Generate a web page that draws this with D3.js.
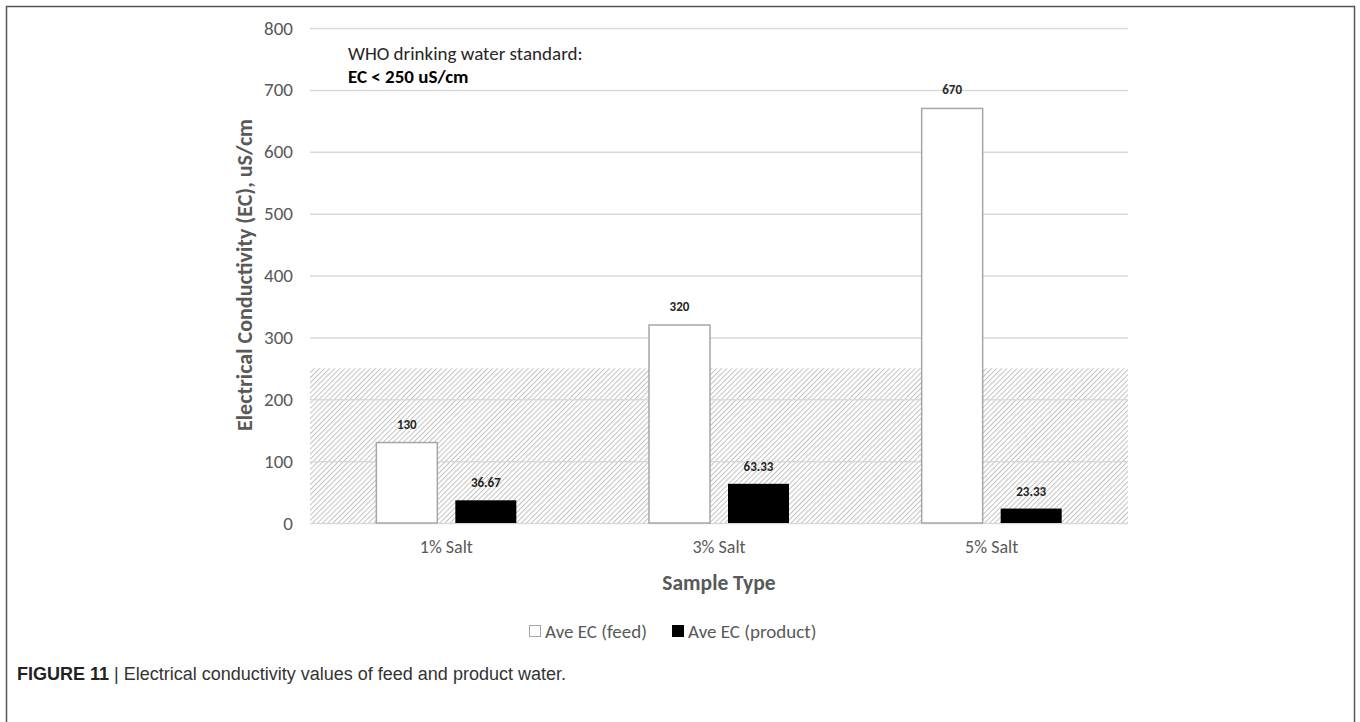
<!DOCTYPE html>
<html>
<head>
<meta charset="utf-8">
<script src="https://cdn.jsdelivr.net/npm/d3@7"></script>
<style>
  html, body { margin: 0; padding: 0; background: #fff; }
  svg { display: block; }
</style>
</head>
<body>
<svg id="chart" width="1360" height="722"></svg>
<script>
// Sample categories and measured conductivity (uS/cm)
const categories = ["1% Salt", "3% Salt", "5% Salt"];
const feedValues = [130, 320, 670];
const productValues = [36.67, 63.33, 23.33];
const feedLabels = ["130", "320", "670"];
const productLabels = ["36.67", "63.33", "23.33"];
const yTicks = [0, 100, 200, 300, 400, 500, 600, 700, 800];
const standardLimit = 250;
const seriesNames = ["Ave EC (feed)", "Ave EC (product)"];

const svg = d3.select("#chart");
const font = "Carlito, Lato, 'Open Sans', sans-serif";
const axisGrey = "#595959";

// Figure frame
svg.append("rect")
  .attr("x", 6.5).attr("y", 6.5)
  .attr("width", 1348).attr("height", 760)
  .attr("fill", "none").attr("stroke", "#555").attr("stroke-width", 1.5);

const plot = { left: 310, right: 1128, top: 28, bottom: 523 };

const x = d3.scaleBand().domain(categories).range([plot.left, plot.right]);
const y = d3.scaleLinear().domain([0, 800]).range([plot.bottom, plot.top]);

// Hatch pattern for the drinking-water band
const defs = svg.append("defs");
const pat = defs.append("pattern")
  .attr("id", "hatch").attr("patternUnits", "userSpaceOnUse")
  .attr("width", 3.6).attr("height", 3.6)
  .attr("patternTransform", "rotate(45)");
pat.append("rect").attr("width", 3.6).attr("height", 3.6).attr("fill", "#fff");
pat.append("line").attr("x1", 0).attr("y1", 0).attr("x2", 0).attr("y2", 3.6)
  .attr("stroke", "#ababab").attr("stroke-width", 1.4);

svg.append("rect")
  .attr("x", plot.left).attr("y", y(standardLimit))
  .attr("width", plot.right - plot.left)
  .attr("height", y(0) - y(standardLimit))
  .attr("fill", "url(#hatch)");

// Gridlines
svg.append("g").selectAll("line").data(yTicks).join("line")
  .attr("x1", plot.left).attr("x2", plot.right)
  .attr("y1", d => y(d) + 0.5).attr("y2", d => y(d) + 0.5)
  .attr("stroke", "#d9d9d9").attr("stroke-width", 1.5);

// Y axis tick labels
const yAxis = svg.append("g")
  .attr("transform", `translate(${plot.left},0)`)
  .call(d3.axisLeft(y).tickValues(yTicks).tickSize(0).tickPadding(17));
yAxis.select(".domain").remove();
yAxis.selectAll("text")
  .attr("font-family", font).attr("font-size", 19).attr("fill", axisGrey);

// X axis category labels
const xAxis = svg.append("g")
  .attr("transform", `translate(0,${plot.bottom})`)
  .call(d3.axisBottom(x).tickSize(0).tickPadding(17));
xAxis.select(".domain").remove();
xAxis.selectAll("text")
  .attr("font-family", font).attr("font-size", 18).attr("fill", axisGrey);

// Bars
const barW = 61, gap = 18;
const groups = svg.append("g").selectAll("g").data(categories).join("g")
  .attr("transform", d => `translate(${x(d) + x.bandwidth() / 2},0)`);

groups.append("rect")
  .attr("x", -gap / 2 - barW).attr("width", barW)
  .attr("y", (d, i) => y(feedValues[i]))
  .attr("height", (d, i) => y(0) - y(feedValues[i]))
  .attr("fill", "#fff").attr("stroke", "#a6a6a6").attr("stroke-width", 1.5);

groups.append("rect")
  .attr("x", gap / 2).attr("width", barW)
  .attr("y", (d, i) => y(productValues[i]))
  .attr("height", (d, i) => y(0) - y(productValues[i]))
  .attr("fill", "#000");

// Value labels
groups.append("text")
  .attr("x", -gap / 2 - barW / 2)
  .attr("y", (d, i) => y(feedValues[i]) - 14)
  .attr("text-anchor", "middle")
  .attr("font-family", font).attr("font-size", 13).attr("font-weight", "bold")
  .attr("fill", "#262626")
  .text((d, i) => feedLabels[i]);

groups.append("text")
  .attr("x", gap / 2 + barW / 2)
  .attr("y", (d, i) => y(productValues[i]) - 13)
  .attr("text-anchor", "middle")
  .attr("font-family", font).attr("font-size", 13).attr("font-weight", "bold")
  .attr("fill", "#262626")
  .text((d, i) => productLabels[i]);

// Axis titles
svg.append("text")
  .attr("transform", `translate(252,275) rotate(-90)`)
  .attr("text-anchor", "middle")
  .attr("font-family", font).attr("font-size", 22).attr("font-weight", "bold")
  .attr("fill", axisGrey)
  .text("Electrical Conductivity (EC), uS/cm");

svg.append("text")
  .attr("x", (plot.left + plot.right) / 2).attr("y", 590)
  .attr("text-anchor", "middle")
  .attr("font-family", font).attr("font-size", 21.5).attr("font-weight", "bold")
  .attr("fill", axisGrey)
  .text("Sample Type");

// Standard annotation
svg.append("text")
  .attr("x", 348).attr("y", 60)
  .attr("font-family", font).attr("font-size", 19).attr("fill", "#262626")
  .text("WHO drinking water standard:");
svg.append("text")
  .attr("x", 348).attr("y", 83)
  .attr("font-family", font).attr("font-size", 19).attr("font-weight", "bold")
  .attr("fill", "#000")
  .text("EC < 250 uS/cm");

// Legend
const legend = svg.append("g").attr("transform", "translate(529,638)");
const l1 = legend.append("g");
l1.append("rect").attr("x", 0.5).attr("y", -12.5).attr("width", 11).attr("height", 11)
  .attr("fill", "#fff").attr("stroke", "#a6a6a6").attr("stroke-width", 1);
const t1 = l1.append("text").attr("x", 16).attr("y", 0)
  .attr("font-family", font).attr("font-size", 19).attr("fill", axisGrey)
  .text(seriesNames[0]);
const off = 16 + t1.node().getComputedTextLength() + 25;
const l2 = legend.append("g").attr("transform", `translate(${off},0)`);
l2.append("rect").attr("x", 0).attr("y", -13).attr("width", 12).attr("height", 12)
  .attr("fill", "#000");
l2.append("text").attr("x", 16).attr("y", 0)
  .attr("font-family", font).attr("font-size", 19).attr("fill", axisGrey)
  .text(seriesNames[1]);

// Caption
const cap = svg.append("text").attr("x", 17).attr("y", 680)
  .attr("font-family", "'Liberation Sans', Arial, sans-serif")
  .attr("font-size", 18).attr("fill", "#333");
cap.append("tspan").attr("font-weight", "bold").attr("fill", "#222").text("FIGURE 11");
cap.append("tspan").text(" | Electrical conductivity values of feed and product water.");
</script>
</body>
</html>
